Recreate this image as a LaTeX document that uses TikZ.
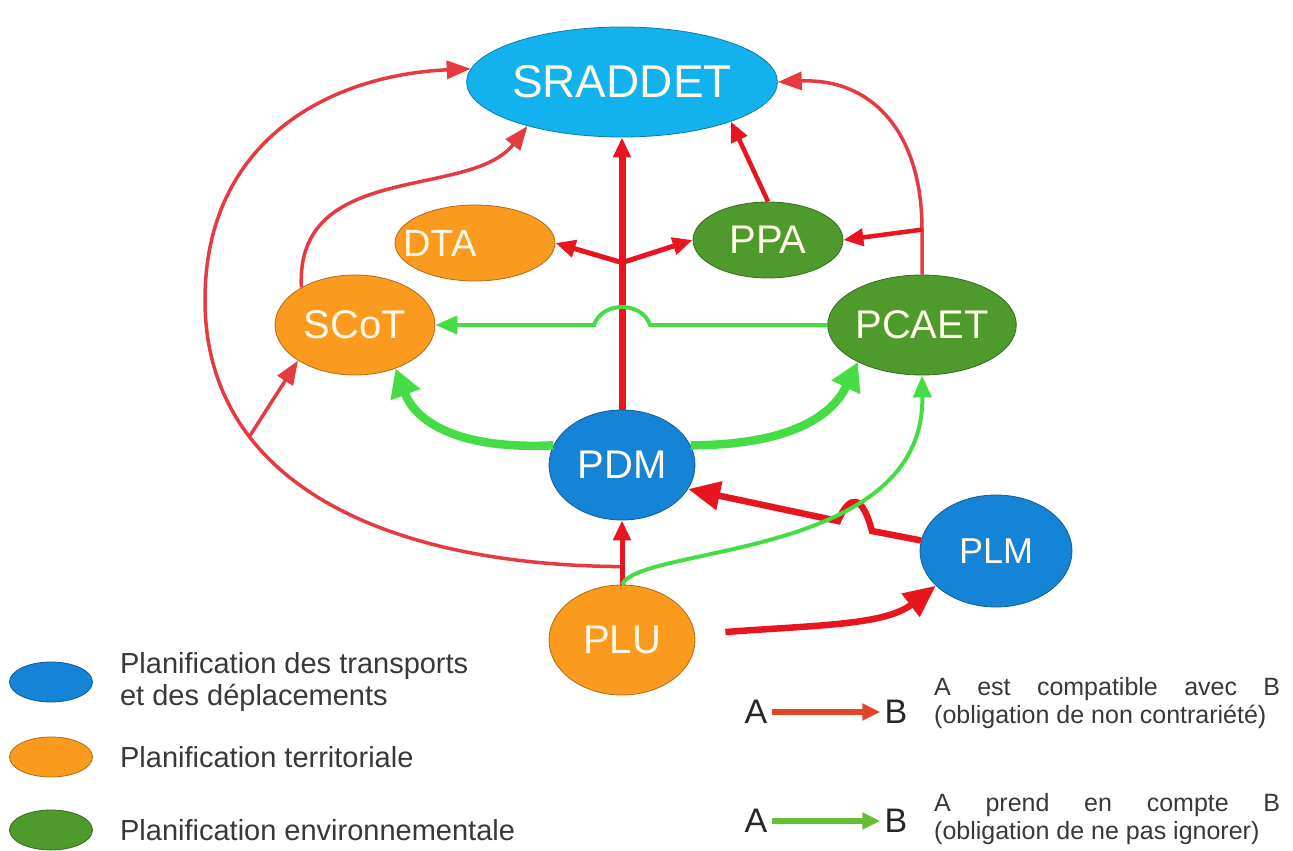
\documentclass[tikz,border=0pt]{standalone}
\usepackage{fontspec}
\setmainfont{Liberation Sans}
\usetikzlibrary{positioning,arrows.meta,calc,shapes.geometric}
\definecolor{catCyan}{HTML}{12B2EE}
\definecolor{catBleu}{HTML}{1583D6}
\definecolor{catOrange}{HTML}{FA9A1E}
\definecolor{catVert}{HTML}{4F9A2C}
\definecolor{catRouge}{HTML}{E8151E}
\definecolor{catRougeFin}{HTML}{E43A40}
\definecolor{catVertVif}{HTML}{45DC45}
\definecolor{catRougeLeg}{HTML}{E2452A}
\definecolor{catVertLeg}{HTML}{66BE33}
\definecolor{catTexte}{HTML}{FFF8E6}
\colorlet{colLegende}{black!78}

\begin{document}
\begin{tikzpicture}[x=1pt, y=1pt,
        plan/.style={ellipse, inner sep=0pt, line width=0.8pt, text=catTexte,
            font=\fontsize{40}{40}\selectfont},
        planCyan/.style={plan, draw=catCyan!70!black, fill=catCyan},
        planTransport/.style={plan, draw=catBleu!70!black, fill=catBleu},
        planTerritoire/.style={plan, draw=catOrange!70!black, fill=catOrange},
        planEnvironnement/.style={plan, draw=catVert!70!black, fill=catVert},
        flecheRouge/.style={-{Triangle[length=20pt, width=17pt]}, line width=5pt, draw=catRouge},
        flecheRougeFine/.style={-{Triangle[length=24pt, width=18pt]}, line width=3.5pt, draw=catRougeFin},
        flecheRougeEpaisse/.style={-{Triangle[length=32pt, width=28pt]}, line width=6.5pt, draw=catRouge},
        flecheVerte/.style={-{Triangle[length=22pt, width=18pt]}, line width=4pt, draw=catVertVif},
        flecheVerteEpaisse/.style={-{Triangle[length=28pt, width=30pt]}, line width=8.5pt, draw=catVertVif},
        legende/.style={inner sep=0pt, align=left, text=colLegende,
            font=\fontsize{29}{32}\selectfont},
        legendeLettre/.style={inner sep=4pt, text=black!85, font=\fontsize{34}{34}\selectfont},
        legendeRegle/.style={inner sep=0pt, align=left, text=colLegende,
            font=\fontsize{25}{28}\selectfont}
    ]
    \useasboundingbox (0,0) rectangle (1293,-851);

    % les plans
    \node[planCyan, minimum width=290pt, minimum height=110pt,
        font=\fontsize{46}{46}\selectfont] (sraddet) at (622,-82) {SRADDET};
    \node[planTerritoire, minimum width=160pt, minimum height=76pt,
        font=\fontsize{38}{38}\selectfont] (dta) at (475,-243) {\makebox[0pt]{DTA\kern70pt}};
    \node[planEnvironnement, minimum width=150pt, minimum height=76pt] (ppa) at (768,-240) {PPA};
    \node[planTerritoire, minimum width=160pt, minimum height=100pt] (scot) at (355,-325) {SCoT};
    \node[planEnvironnement, minimum width=175pt, minimum height=100pt] (pcaet) at (922,-325) {PCAET};
    \node[planTransport, minimum width=146pt, minimum height=110pt] (pdm) at (622,-465) {PDM};
    \node[planTransport, minimum width=152pt, minimum height=112pt,
        font=\fontsize{36}{36}\selectfont] (plm) at (996,-551) {PLM};
    \node[planTerritoire, minimum width=146pt, minimum height=110pt] (plu) at (622,-640) {PLU};

    % compatibilite
    \coordinate (jonction) at ($(pdm.north)!0.54!(sraddet.south)$);
    \coordinate (depart) at ($(plu.north)!0.28!(pdm.south)$);
    \draw[flecheRouge, line width=7pt] (pdm.north) -- (sraddet.south);
    \draw[flecheRouge] (jonction) -- (dta.east);
    \draw[flecheRouge] (jonction) -- (ppa.west);
    \draw[flecheRouge, line width=4.5pt] (ppa.north) -- (sraddet.-20);
    \draw[flecheRougeFine] (pcaet.north) -- ++(0,45) coordinate (pcaetBranche)
        .. controls (922,-130) and (870,-78) .. (sraddet.east);
    \draw[flecheRouge, line width=4.5pt] (pcaetBranche) -- (ppa.east);
    \draw[flecheRougeFine] (scot.145) .. controls (295,-160) and (470,-200) .. (sraddet.-155);
    \draw[flecheRougeFine] (depart) .. controls (380,-565) and (205,-480) .. (205,-300)
        coordinate[pos=0.7] (arcBranche)
        .. controls (205,-140) and (330,-75) .. (sraddet.175);
    \draw[flecheRougeFine] (arcBranche) -- (scot.212);
    \draw[flecheRouge] (plu.north) -- (pdm.south);
    \draw[flecheRougeEpaisse] (plm.172) -- (872,-531)
        .. controls (862,-494) and (850,-494) .. (838,-521) -- (pdm.-20);
    \draw[flecheRougeEpaisse] ([xshift=30pt,yshift=8pt]plu.east)
        .. controls (820,-625) and (885,-625) .. (plm.-150);

    % prise en compte
    \draw[flecheVerte] (pcaet.west) -- (650,-325)
        .. controls (642,-301) and (602,-301) .. (594,-325) -- (scot.east);
    \draw[flecheVerteEpaisse] (pdm.164) .. controls (455,-450) and (415,-420) .. (scot.-47);
    \draw[flecheVerteEpaisse] (pdm.16) .. controls (800,-445) and (835,-410) .. (pcaet.-150);
    \draw[flecheVerte] (plu.north) .. controls (640,-545) and (925,-560) .. (pcaet.south);

    % legende des couleurs
    \node[planTransport, minimum width=83pt, minimum height=40pt] (legBleu) at (51,-682) {};
    \node[planTerritoire, minimum width=83pt, minimum height=40pt] (legOrange) at (51,-757) {};
    \node[planEnvironnement, minimum width=83pt, minimum height=40pt] (legVert) at (51,-830) {};
    \node[legende, right=27pt of legBleu] (txtBleu) {Planification des transports\\et des déplacements};
    \node[legende, right=27pt of legOrange] (txtOrange) {Planification territoriale};
    \node[legende, right=27pt of legVert] (txtVert) {Planification environnementale};

    % legende des fleches
    \node[legendeLettre] (aRouge) at (756,-712) {A};
    \node[legendeLettre] (bRouge) at (896,-712) {B};
    \draw[-{Triangle[length=18pt, width=16pt]}, line width=5.5pt, catRougeLeg] (aRouge) -- (bRouge);
    \node[legendeRegle, anchor=west] (txtRouge) at (934,-703)
        {\makebox[346pt][s]{A est compatible avec B}\\(obligation de non contrariété)};
    \node[legendeLettre] (aVert) at (756,-821) {A};
    \node[legendeLettre] (bVert) at (896,-821) {B};
    \draw[-{Triangle[length=18pt, width=16pt]}, line width=5.5pt, catVertLeg] (aVert) -- (bVert);
    \node[legendeRegle, anchor=west] (txtVert2) at (934,-819)
        {\makebox[346pt][s]{A prend en compte B}\\(obligation de ne pas ignorer)};
\end{tikzpicture}
\end{document}
